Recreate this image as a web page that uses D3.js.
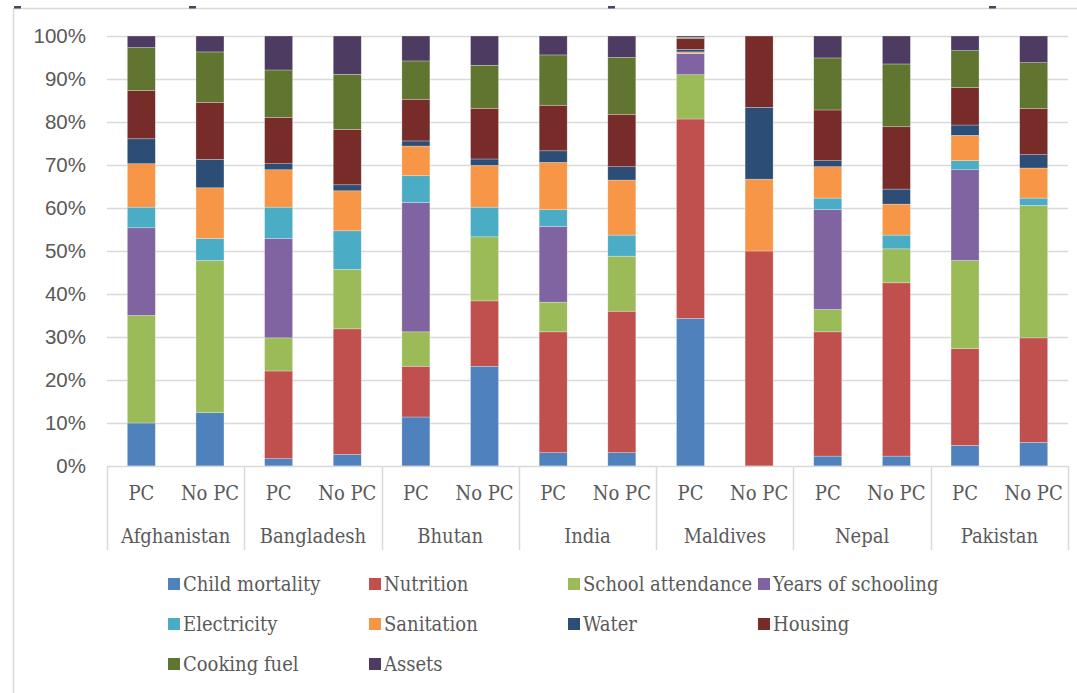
<!DOCTYPE html>
<html>
<head>
<meta charset="utf-8">
<script src="https://cdn.jsdelivr.net/npm/d3@7"></script>
<style>
  body { margin: 0; background: #fff; }
  svg { display: block; }
</style>
</head>
<body>
<div id="chart"></div>
<script>
// countries and the two groups inside each
const countries = ["Afghanistan", "Bangladesh", "Bhutan", "India", "Maldives", "Nepal", "Pakistan"];
const groups = ["PC", "No PC"];

// deprivation indicators (stack order, bottom to top)
const indicators = ["Child mortality", "Nutrition", "School attendance", "Years of schooling",
  "Electricity", "Sanitation", "Water", "Housing", "Cooking fuel", "Assets"];

const colors = ["#4f81bd", "#c0504d", "#9bbb59", "#8064a2", "#4bacc6",
  "#f79646", "#2c4d75", "#772c2a", "#5f7530", "#4d3b62"];

// percent share, one value per bar: Afg PC, Afg No PC, Ban PC, Ban No PC, ... Pak No PC
const childMortality   = [10.0, 12.4, 1.7, 2.7, 11.4, 23.2, 3.1, 3.1, 34.3, 0, 2.3, 2.3, 4.8, 5.5];
const nutrition        = [0, 0, 20.4, 29.2, 11.8, 15.2, 28.1, 32.9, 46.4, 50, 28.9, 40.3, 22.5, 24.3];
const schoolAttendance = [25.0, 35.4, 7.7, 13.8, 8.0, 14.9, 6.9, 12.8, 10.3, 0, 5.2, 7.9, 20.5, 30.8];
const yearsSchooling   = [20.4, 0, 23.1, 0, 30.1, 0, 17.6, 0, 4.9, 0, 23.2, 0, 21.1, 0];
const electricity      = [4.8, 5.1, 7.3, 9.0, 6.2, 6.9, 3.9, 4.9, 0.1, 0, 2.7, 3.2, 2.1, 1.7];
const sanitation       = [10.1, 11.8, 8.7, 9.3, 6.9, 9.7, 11.0, 12.8, 0.3, 16.7, 7.3, 7.2, 5.9, 7.0];
const water            = [5.8, 6.6, 1.4, 1.4, 1.2, 1.5, 2.7, 3.1, 0.6, 16.7, 1.4, 3.5, 2.4, 3.1];
const housing          = [11.2, 13.2, 10.8, 12.9, 9.7, 11.8, 10.6, 12.2, 2.5, 16.6, 11.8, 14.5, 8.7, 10.7];
const cookingFuel      = [10.0, 11.8, 11.0, 12.8, 8.9, 10.0, 11.7, 13.2, 0.3, 0, 12.1, 14.6, 8.6, 10.7];
const assets           = [2.7, 3.7, 7.9, 8.9, 5.8, 6.8, 4.4, 5.0, 0.3, 0, 5.1, 6.5, 3.4, 6.2];

const seriesValues = [childMortality, nutrition, schoolAttendance, yearsSchooling, electricity,
  sanitation, water, housing, cookingFuel, assets];

const yTicks = [0, 0.1, 0.2, 0.3, 0.4, 0.5, 0.6, 0.7, 0.8, 0.9, 1];

// build rows for d3.stack
const rows = [];
countries.forEach((c, ci) => {
  groups.forEach((g, gi) => {
    const row = {country: c, group: g};
    indicators.forEach((k, si) => { row[k] = seriesValues[si][ci * 2 + gi]; });
    rows.push(row);
  });
});

const width = 1077, height = 693;
const plot = {left: 107, right: 1068, top: 36, bottom: 466};
const serif = "'DejaVu Serif Condensed', 'DejaVu Serif', serif";
const textColor = "#595959";
const lineColor = "#d9d9d9";

const svg = d3.select("#chart").append("svg")
    .attr("width", width)
    .attr("height", height);

// outer frame of the picture
svg.append("line")
    .attr("x1", 13).attr("x2", width).attr("y1", 8.5).attr("y2", 8.5)
    .attr("stroke", lineColor).attr("stroke-width", 1.5);
svg.append("line")
    .attr("x1", 13.5).attr("x2", 13.5).attr("y1", 8).attr("y2", height)
    .attr("stroke", lineColor).attr("stroke-width", 1.5);
const topMarks = [14, 189, 608, 989];
svg.append("g").selectAll("rect")
  .data(topMarks)
  .join("rect")
    .attr("x", d => d).attr("y", 6)
    .attr("width", 7).attr("height", 2.5)
    .attr("fill", "#3e4c5e");

const x0 = d3.scaleBand()
    .domain(countries)
    .range([plot.left, plot.right])
    .padding(0);

const x1 = d3.scaleBand()
    .domain(groups)
    .range([0, x0.bandwidth()])
    .paddingInner(0.592)
    .paddingOuter(0.296);

const y = d3.scaleLinear()
    .domain([0, 1])
    .range([plot.bottom, plot.top]);

const color = d3.scaleOrdinal().domain(indicators).range(colors);

// gridlines
svg.append("g")
  .selectAll("line")
  .data(yTicks.slice(1))
  .join("line")
    .attr("x1", plot.left).attr("x2", plot.right)
    .attr("y1", d => Math.round(y(d)) + 0.5)
    .attr("y2", d => Math.round(y(d)) + 0.5)
    .attr("stroke", lineColor)
    .attr("stroke-width", 1.5);

// y axis labels
svg.append("g")
    .attr("transform", `translate(${plot.left},0)`)
    .call(d3.axisLeft(y).tickValues(yTicks).tickFormat(d3.format(".0%")).tickSize(0).tickPadding(21))
    .call(g => g.select(".domain").remove())
    .call(g => g.selectAll("text")
        .attr("fill", textColor)
        .style("font", "20.5px 'Liberation Sans', Arial, sans-serif"));

// stacked bars
const stack = d3.stack().keys(indicators).offset(d3.stackOffsetExpand);
const layers = stack(rows);

svg.append("g")
  .selectAll("g")
  .data(layers)
  .join("g")
    .attr("fill", d => color(d.key))
  .selectAll("rect")
  .data(d => d)
  .join("rect")
    .attr("x", d => x0(d.data.country) + x1(d.data.group))
    .attr("y", d => y(d[1]))
    .attr("width", x1.bandwidth())
    .attr("height", d => Math.max(0, y(d[0]) - y(d[1])))
    .attr("stroke", "#ffffff")
    .attr("stroke-opacity", 0.45)
    .attr("stroke-width", 0.6);

// category axis: baseline, separators, labels
svg.append("line")
    .attr("x1", plot.left).attr("x2", plot.right)
    .attr("y1", plot.bottom + 0.5).attr("y2", plot.bottom + 0.5)
    .attr("stroke", lineColor).attr("stroke-width", 1.5);

const sepX = countries.map(c => x0(c)).concat([plot.right]);
svg.append("g")
  .selectAll("line")
  .data(sepX)
  .join("line")
    .attr("x1", d => Math.round(d) + 0.5).attr("x2", d => Math.round(d) + 0.5)
    .attr("y1", plot.bottom).attr("y2", 550)
    .attr("stroke", lineColor)
    .attr("stroke-width", 1.5);

svg.append("g")
  .selectAll("text")
  .data(rows)
  .join("text")
    .attr("x", d => x0(d.country) + x1(d.group) + x1.bandwidth() / 2)
    .attr("y", 500)
    .attr("text-anchor", "middle")
    .attr("fill", textColor)
    .style("font", `20px ${serif}`)
    .text(d => d.group);

svg.append("g")
  .selectAll("text")
  .data(countries)
  .join("text")
    .attr("x", d => x0(d) + x0.bandwidth() / 2)
    .attr("y", 543)
    .attr("text-anchor", "middle")
    .attr("fill", textColor)
    .style("font", `20px ${serif}`)
    .text(d => d);

// legend, four items per row
const legendCols = [168, 369, 568, 758];
const legendRows = [584, 624, 664];

const legend = svg.append("g")
  .selectAll("g")
  .data(indicators)
  .join("g")
    .attr("transform", (d, i) => `translate(${legendCols[i % 4]},${legendRows[Math.floor(i / 4)]})`);

legend.append("rect")
    .attr("x", 0).attr("y", -6)
    .attr("width", 12).attr("height", 12)
    .attr("fill", d => color(d));

legend.append("text")
    .attr("x", 15)
    .attr("y", 6.5)
    .attr("fill", textColor)
    .style("font", `20px ${serif}`)
    .text(d => d);
</script>
</body>
</html>
